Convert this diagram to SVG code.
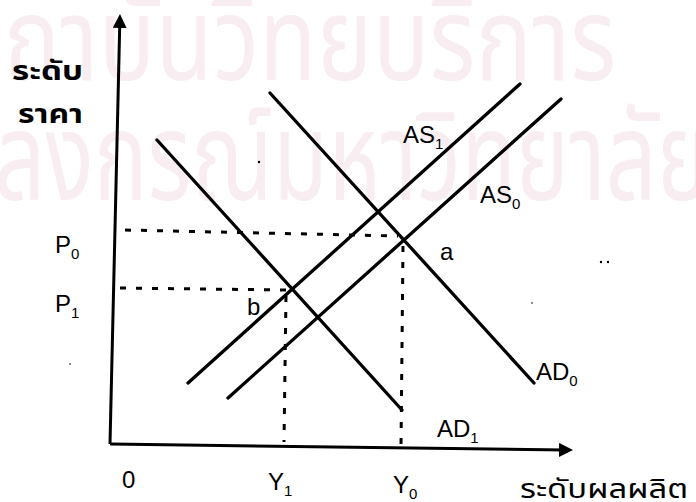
<svg xmlns="http://www.w3.org/2000/svg" width="696" height="502" viewBox="0 0 696 502">
<style>
.wm{font-family:"Noto Sans Thai","Noto Sans","DejaVu Sans",sans-serif;font-size:88px;fill:#f8edf1}
.ln{stroke:#000;stroke-width:3.3;fill:none;stroke-linecap:round}
.ax{stroke:#000;stroke-width:3;fill:none}
.dash{stroke:#000;stroke-width:3;fill:none;stroke-dasharray:6 10}
.lab{font-family:"Liberation Sans",Arial,sans-serif;font-size:24px;fill:#000}
.sub{font-size:15px}
.th{font-family:"Noto Sans Thai","Noto Sans","DejaVu Sans",sans-serif;font-size:26px;fill:#000}
.thb{font-weight:bold}
</style>
<defs>
<marker id="arr" markerUnits="userSpaceOnUse" markerWidth="16" markerHeight="16" refX="6" refY="7" orient="auto">
<path d="M0,0 L14,7 L0,14 z" fill="#000"/>
</marker>
</defs>
<rect width="696" height="502" fill="#fff"/>
<g id="watermark">
<text class="wm" transform="translate(0,80) scale(1.07,1.33)" x="-47" y="0">สถาบันวิทยบริการ</text>
<text class="wm" transform="translate(0,200) scale(1.02,1.4)" x="-147" y="0">จุฬาลงกรณ์มหาวิทยาลัย</text>
</g>
<g id="axes">
<line class="ax" x1="110" y1="444" x2="119.8" y2="22" marker-end="url(#arr)"/>
<line class="ax" x1="110" y1="444" x2="565" y2="450" marker-end="url(#arr)"/>
</g>
<g id="connectors">
<line class="dash" x1="125" y1="230" x2="398" y2="236"/>
<line class="dash" x1="120" y1="288" x2="288" y2="290"/>
<line class="dash" x1="286" y1="296" x2="284" y2="442"/>
<line class="dash" x1="403" y1="246" x2="401" y2="446"/>
</g>
<g id="AD0"><line class="ln" x1="270" y1="93" x2="534" y2="383"/></g>
<g id="AD1"><line class="ln" x1="157" y1="140" x2="402" y2="410"/></g>
<g id="AS1"><line class="ln" x1="188" y1="383" x2="520" y2="84"/></g>
<g id="AS0"><line class="ln" x1="228" y1="398" x2="561" y2="99"/></g>
<g id="labels">
<text class="th thb" x="12" y="80" textLength="71" lengthAdjust="spacingAndGlyphs">ระดับ</text>
<text class="th thb" x="18" y="123" textLength="65" lengthAdjust="spacingAndGlyphs">ราคา</text>
<text class="th" x="520" y="498" textLength="168" lengthAdjust="spacingAndGlyphs">ระดับผลผลิต</text>
<text class="lab" x="55" y="253">P<tspan class="sub" dy="6">0</tspan></text>
<text class="lab" x="55" y="312">P<tspan class="sub" dy="6">1</tspan></text>
<text class="lab" x="247" y="315">b</text>
<text class="lab" x="440" y="260">a</text>
<text class="lab" x="403" y="143">AS<tspan class="sub" dy="6">1</tspan></text>
<text class="lab" x="480" y="203">AS<tspan class="sub" dy="6">0</tspan></text>
<text class="lab" x="536" y="380">AD<tspan class="sub" dy="6">0</tspan></text>
<text class="lab" x="437" y="437">AD<tspan class="sub" dy="6">1</tspan></text>
<text class="lab" x="122" y="488">0</text>
<text class="lab" x="268" y="490">Y<tspan class="sub" dy="6">1</tspan></text>
<text class="lab" x="393" y="493">Y<tspan class="sub" dy="6">0</tspan></text>
</g>
<g id="specks" fill="#000">
<circle cx="259" cy="162" r="1.2"/>
<circle cx="601" cy="262" r="1.2"/>
<circle cx="608" cy="262" r="1.2"/>
<circle cx="532" cy="303" r="0.8"/>
<circle cx="70" cy="364" r="0.8"/>
</g>
</svg>
